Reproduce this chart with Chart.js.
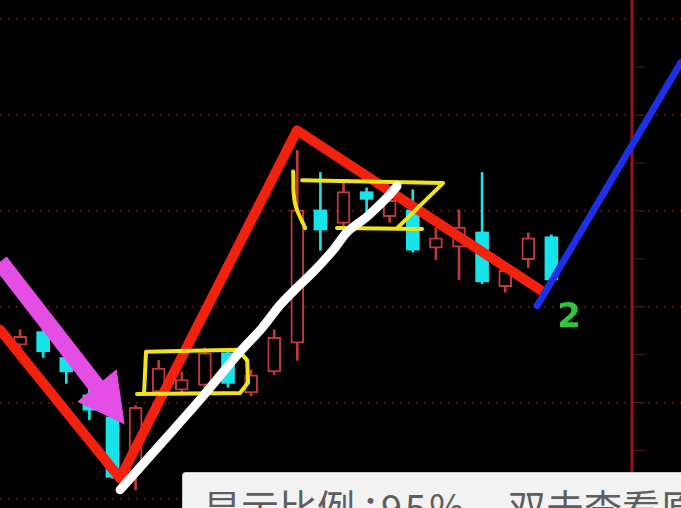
<!DOCTYPE html>
<html>
<head>
<meta charset="utf-8">
<script src="https://cdn.jsdelivr.net/npm/chart.js@4.4.1/dist/chart.umd.min.js"></script>
<style>
html, body { margin: 0; padding: 0; background: #000; overflow: hidden; }
#wrap { position: relative; width: 681px; height: 508px; background: #000; }
#hint {
    position: absolute; left: 182px; top: 472px; width: 499px; height: 36px;
    overflow: hidden; background: #f2f2f2; border-top: 1px solid #c8c8c8; border-left: 1px solid #c8c8c8;
    border-top-left-radius: 4px; box-sizing: border-box;
    font-family: "Noto Sans CJK SC"; font-size: 38px; line-height: 38px; color: #5e5e5e; white-space: nowrap;
}
#hint span { position: absolute; top: 14px; }
</style>
</head>
<body>
<div id="wrap">
    <canvas id="grafico"></canvas>
    <div id="hint"><span style="left:20px">显示比例</span><span style="left:178px">：</span><span style="left:198px;letter-spacing:3px">95%</span><span style="left:325px">双击查看原图</span></div>
</div>
<script>
// velas (indice 0..23)
const opens  = [11.60, 11.74, 11.47, 11.08, 10.85, 10.27, 11.11, 11.13, 11.18, 11.52, 11.10, 11.32, 11.62, 13.01, 12.87, 13.20, 12.94, 13.01, 12.61, 12.62, 12.78, 12.21, 12.49, 12.73];
const highs  = [11.76, 11.79, 11.53, 11.18, 10.92, 10.97, 11.44, 11.32, 11.57, 11.55, 11.34, 11.76, 13.63, 13.40, 13.29, 13.24, 13.22, 13.22, 12.82, 13.01, 13.40, 12.46, 12.77, 12.75];
const lows   = [11.55, 11.47, 11.20, 10.82, 10.21, 10.09, 11.05, 11.08, 11.13, 11.16, 11.07, 11.29, 11.44, 12.59, 12.82, 12.98, 12.88, 12.57, 12.49, 12.28, 12.24, 12.15, 12.41, 12.26];
const closes = [11.69, 11.53, 11.32, 10.92, 10.22, 10.95, 11.36, 11.24, 11.52, 11.20, 11.29, 11.68, 13.01, 12.80, 13.20, 13.12, 13.11, 12.59, 12.72, 12.83, 12.26, 12.38, 12.72, 12.28];

// marcas desenhadas a mao (x = indice, y = preco)
const zigzagX = [-0.87, 4.33, 11.99, 22.55];
const zigzagY = [11.76, 10.21, 13.84, 12.17];
const blueX = [22.38, 28.61];
const blueY = [12.01, 14.55];
const whiteX = [4.33, 6.06, 7.79, 9.52, 10.48, 11.26, 11.99, 12.68, 13.55, 14.16, 15.02, 15.89, 16.32];
const whiteY = [10.09, 10.56, 11.03, 11.53, 11.78, 12.02, 12.20, 12.36, 12.59, 12.78, 12.94, 13.14, 13.26];
const arrowX = [-0.87, 3.38];
const arrowY = [12.47, 11.15];
const arrowHeadX = [2.51, 4.16, 4.50, 2.51];
const arrowHeadY = [11.01, 11.34, 10.78, 11.01];
const box1X = [5.06, 9.52, 9.87, 9.83, 9.44, 5.45, 5.37];
const box1Y = [11.09, 11.10, 11.21, 11.44, 11.55, 11.53, 11.11];
const bracketX = [11.82, 11.90, 12.34];
const bracketY = [13.41, 13.08, 12.82];
const box2TopX = [12.21, 18.31, 16.32];
const box2TopY = [13.32, 13.29, 12.82];
const box2BottomX = [13.72, 17.40];
const box2BottomY = [12.82, 12.81];
const markerX = 26.49;
const sideTicks = [14.5, 14, 13.5, 13, 12.5, 12, 11.5, 11, 10.5];
const labelX = [23.77];
const labelY = [11.88];
const labelText = ['2'];

const pts = (xs, ys) => xs.map((x, i) => ({ x: x, y: ys[i] }));
const isUp = opens.map((o, i) => closes[i] >= o);
const RED = '#bf3a3a';
const CYAN = '#17e3ea';

const linha = (data, color, width, order, extra) => Object.assign({
    type: 'line',
    data: data,
    borderColor: color,
    borderWidth: width,
    pointRadius: 0,
    borderCapStyle: 'round',
    borderJoinStyle: 'round',
    fill: false,
    order: order
}, extra || {});

const labelPlugin = {
    id: 'rotulos',
    afterDatasetsDraw(chart) {
        const { ctx, scales: { x, y } } = chart;
        ctx.save();
        ctx.font = 'bold 34px "DejaVu Sans"';
        ctx.fillStyle = '#2ec83c';
        ctx.textAlign = 'center';
        ctx.textBaseline = 'middle';
        labelText.forEach((t, i) => ctx.fillText(t, x.getPixelForValue(labelX[i]), y.getPixelForValue(labelY[i])));
        ctx.restore();
    }
};

const canvasElement = document.getElementById('grafico');
new Chart(canvasElement, {
    type: 'bar',
    data: {
        datasets: [
            linha([{ x: markerX, y: 9.9 }, { x: markerX, y: 15.2 }], '#9a1414', 3, 6, { borderCapStyle: 'butt' }),
            linha(sideTicks.map(v => ({ x: markerX + 0.3, y: v })), '#4a1c1c', 1, 6, {
                showLine: false, pointStyle: 'line', pointRadius: 6, pointBorderColor: '#4a1c1c', pointBorderWidth: 1
            }),
            {
                type: 'bar',
                data: opens.map((o, i) => ({ x: i, y: [lows[i], highs[i]] })),
                backgroundColor: isUp.map(u => u ? RED : CYAN),
                barThickness: 2,
                grouped: false,
                order: 5
            },
            {
                type: 'bar',
                data: opens.map((o, i) => ({ x: i, y: [o, closes[i]] })),
                backgroundColor: isUp.map(u => u ? '#000' : CYAN),
                borderColor: isUp.map(u => u ? RED : CYAN),
                borderWidth: isUp.map(u => u ? 2 : 0),
                borderSkipped: false,
                barThickness: 13,
                grouped: false,
                order: 4
            },
            linha(pts(zigzagX, zigzagY), '#f2220f', 10, 3),
            linha(pts(box1X, box1Y), '#f2e21a', 4, 2),
            linha(pts(bracketX, bracketY), '#f2e21a', 4, 2, { tension: 0.4 }),
            linha(pts(box2TopX, box2TopY), '#f2e21a', 4, 2),
            linha(pts(box2BottomX, box2BottomY), '#f2e21a', 4, 2),
            linha(pts(arrowX, arrowY), '#e44ee4', 17, 2, { borderCapStyle: 'butt' }),
            linha(pts(arrowHeadX, arrowHeadY), '#e44ee4', 1, 2, { fill: 'shape', backgroundColor: '#e44ee4' }),
            linha(pts(whiteX, whiteY), '#ffffff', 9, 1, { tension: 0.3 }),
            linha(pts(blueX, blueY), '#1f2fe6', 7, 1)
        ]
    },
    options: {
        responsive: true,
        maintainAspectRatio: false,
        animation: false,
        layout: { padding: 0, autoPadding: false },
        plugins: {
            legend: { display: false },
            title: { display: false },
            tooltip: { enabled: false }
        },
        scales: {
            x: {
                type: 'linear',
                min: -0.87,
                max: 28.61,
                offset: false,
                display: false
            },
            y: {
                min: 9.9,
                max: 15.2,
                afterFit: s => { s.width = 0; },
                grid: {
                    color: '#6e1414',
                    lineWidth: 1.5,
                    drawTicks: false
                },
                border: { display: false, dash: [2, 6] },
                ticks: {
                    display: false,
                    stepSize: 1,
                    includeBounds: false
                }
            }
        }
    },
    plugins: [labelPlugin]
});
</script>
</body>
</html>
